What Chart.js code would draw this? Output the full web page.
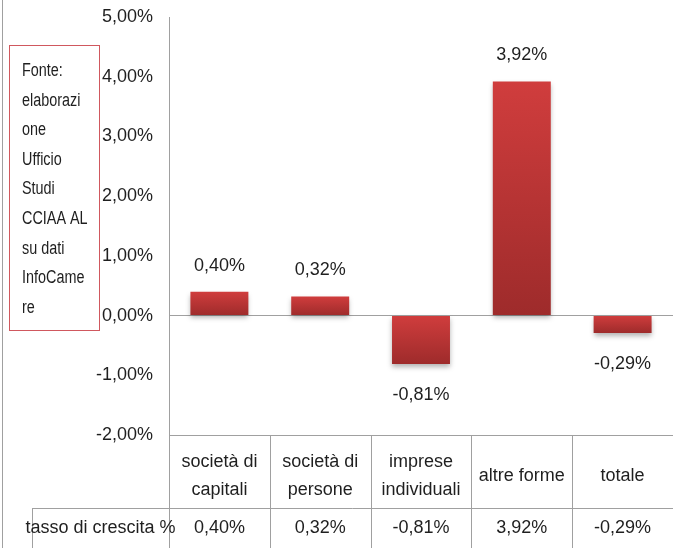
<!DOCTYPE html>
<html lang="it">
<head>
    <meta charset="UTF-8">
    <title>Tasso di crescita</title>
    <script src="https://cdn.jsdelivr.net/npm/chart.js"></script>
    <style>
        html, body { margin: 0; padding: 0; background: #fff; }
        canvas { display: block; }
    </style>
</head>
<body>
    <canvas id="growthChart" width="673" height="548"></canvas>
    <script>
        // dati
        const categories = [['società di', 'capitali'], ['società di', 'persone'], ['imprese', 'individuali'], ['altre forme'], ['totale']];
        const growthRates = [0.40, 0.32, -0.81, 3.92, -0.29];
        const yMin = -2;
        const yMax = 5;
        const yStep = 1;
        const rowLabel = 'tasso di crescita %';
        const sourceNote = ['Fonte:', 'elaborazi', 'one', 'Ufficio', 'Studi', 'CCIAA AL', 'su dati', 'InfoCame', 're'];

        const FONT = "'Liberation Sans', Arial, sans-serif";
        const TEXT = '#1f1f1f';
        const LINE = '#a0a0a0';

        const fmt = v => v.toFixed(2).replace('.', ',') + '%';

        function barGradient(context) {
            const chart = context.chart;
            const y = chart.scales.y;
            if (!chart.chartArea || !y || context.raw === undefined) return '#c0393a';
            const v = context.raw;
            const top = y.getPixelForValue(Math.max(v, 0));
            const bottom = y.getPixelForValue(Math.min(v, 0));
            if (!isFinite(top) || !isFinite(bottom) || top === bottom) return '#c0393a';
            const g = chart.ctx.createLinearGradient(0, top, 0, bottom);
            g.addColorStop(0, '#d03d3d');
            g.addColorStop(1, '#9e2b2b');
            return g;
        }

        // tabella dati, nota fonte ed etichette
        const tablePlugin = {
            id: 'tablePlugin',
            beforeDatasetsDraw(chart) {
                const ctx = chart.ctx;
                ctx.save();
                ctx.shadowColor = 'rgba(0,0,0,0.3)';
                ctx.shadowBlur = 5;
                ctx.shadowOffsetY = 3;
            },
            afterDatasetsDraw(chart) {
                const ctx = chart.ctx;
                ctx.restore();
                const meta = chart.getDatasetMeta(0);
                ctx.save();
                ctx.font = '18px ' + FONT;
                ctx.fillStyle = TEXT;
                ctx.textAlign = 'center';
                ctx.textBaseline = 'middle';
                meta.data.forEach((bar, i) => {
                    const v = growthRates[i];
                    const y = v >= 0 ? bar.y - 26 : bar.y + 31;
                    ctx.fillText(fmt(v), bar.x, y);
                });
                ctx.restore();
            },
            afterDraw(chart) {
                const ctx = chart.ctx;
                const xs = chart.scales.x;
                const area = chart.chartArea;
                const H = chart.height;
                const step = xs.getPixelForValue(1) - xs.getPixelForValue(0);
                const rowTop = 508;
                const tableLeft = 32;

                ctx.save();
                ctx.strokeStyle = LINE;
                ctx.lineWidth = 1;
                ctx.beginPath();
                // bordo sinistro
                ctx.moveTo(2.5, 0);
                ctx.lineTo(2.5, H);
                // separatori colonne
                for (let i = 0; i <= categories.length; i++) {
                    const x = Math.round(xs.getPixelForValue(i) - step / 2) + 0.5;
                    ctx.moveTo(x, area.bottom);
                    ctx.lineTo(x, H);
                }
                // riga valori
                ctx.moveTo(tableLeft + 0.5, rowTop + 0.5);
                ctx.lineTo(chart.width, rowTop + 0.5);
                ctx.moveTo(tableLeft + 0.5, rowTop);
                ctx.lineTo(tableLeft + 0.5, H);
                ctx.stroke();

                ctx.font = '18px ' + FONT;
                ctx.fillStyle = TEXT;
                ctx.textAlign = 'center';
                ctx.textBaseline = 'middle';
                const catMid = 476;
                const lh = 28;
                categories.forEach((lines, i) => {
                    const x = xs.getPixelForValue(i);
                    const y0 = catMid - (lines.length - 1) * lh / 2;
                    lines.forEach((t, j) => ctx.fillText(t, x, y0 + j * lh));
                    ctx.fillText(fmt(growthRates[i]), x, 528);
                });
                ctx.fillText(rowLabel, (tableLeft + area.left) / 2, 528);

                // nota fonte
                ctx.strokeStyle = '#d0585e';
                ctx.strokeRect(9.5, 45.5, 90, 285);
                ctx.textAlign = 'left';
                sourceNote.forEach((t, j) => {
                    ctx.save();
                    ctx.translate(22, 71 + j * 29.6);
                    ctx.scale(0.8, 1);
                    ctx.fillText(t, 0, 0);
                    ctx.restore();
                });
                ctx.restore();
            }
        };

        const ctx = document.getElementById('growthChart').getContext('2d');
        new Chart(ctx, {
            type: 'bar',
            data: {
                labels: categories,
                datasets: [{
                    label: rowLabel,
                    data: growthRates,
                    backgroundColor: barGradient,
                    borderWidth: 0,
                    categoryPercentage: 1,
                    barPercentage: 0.575
                }]
            },
            options: {
                responsive: false,
                animation: false,
                layout: { padding: { top: 17, left: 0, right: 0, bottom: 0 } },
                plugins: {
                    legend: { display: false },
                    tooltip: { enabled: false }
                },
                scales: {
                    x: {
                        grid: { display: false },
                        border: { display: true, color: LINE },
                        ticks: { display: false },
                        afterFit: s => { s.height = 113; }
                    },
                    y: {
                        min: yMin,
                        max: yMax,
                        ticks: {
                            stepSize: yStep,
                            padding: 16,
                            color: TEXT,
                            font: { family: FONT, size: 18 },
                            callback: v => fmt(v)
                        },
                        grid: {
                            drawTicks: false,
                            color: c => (c.tick && c.tick.value === 0 ? LINE : 'rgba(0,0,0,0)')
                        },
                        border: { display: true, color: LINE },
                        afterFit: s => {
                            s.width = 169;
                            s.paddingTop = 0;
                            s.paddingBottom = 0;
                        }
                    }
                }
            },
            plugins: [tablePlugin]
        });
    </script>
</body>
</html>
